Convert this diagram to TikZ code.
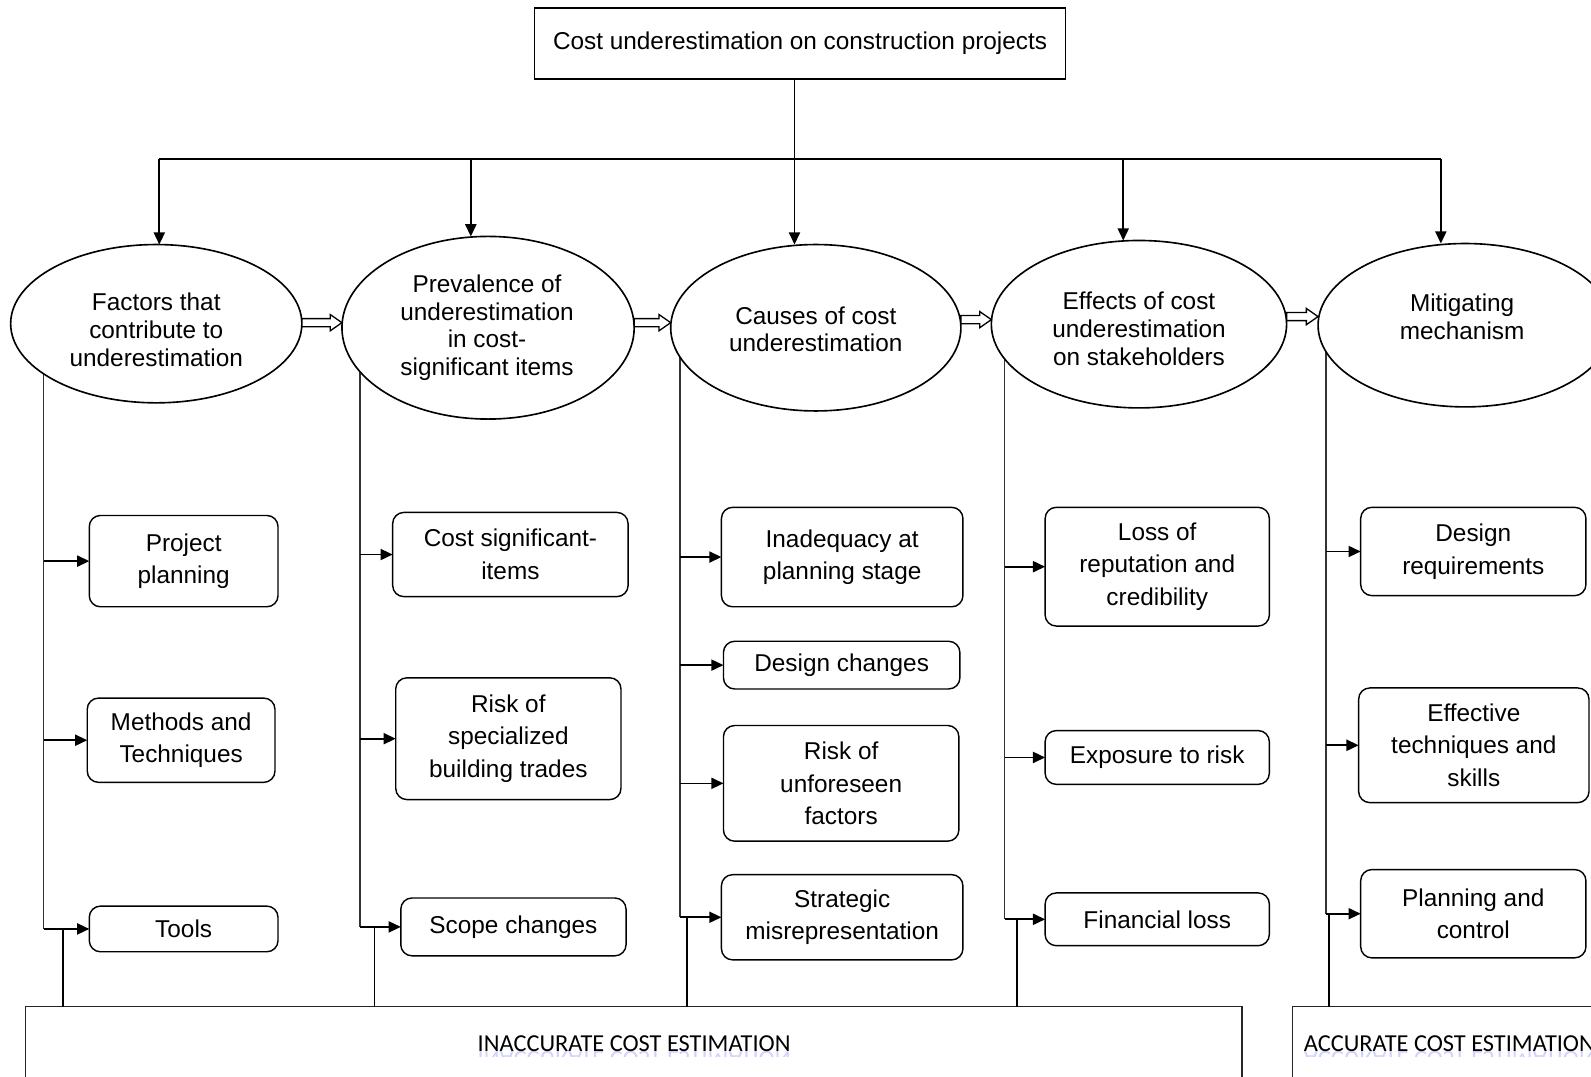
\documentclass[tikz,border=0pt]{standalone}
\usepackage{fontspec}
\setmainfont{Liberation Sans}
\newfontfamily\calibrifont{Carlito}
\usetikzlibrary{shapes.geometric,arrows.meta,calc,backgrounds}

% hollow block arrow between two ovals, at a given height
\newcommand\hollowlink[3]{%
  \draw[hollow] let \p1=(#1.east), \p2=(#2.west), \p3=(0,#3) in
    (\x1,{\y3+4pt}) -- ({\x2-11.5pt},{\y3+4pt}) -- ({\x2-11.5pt},{\y3+8pt})
    -- (\x2,\y3) -- ({\x2-11.5pt},{\y3-8pt}) -- ({\x2-11.5pt},{\y3-4pt})
    -- (\x1,{\y3-4pt}) -- cycle;}

\begin{document}
\begin{tikzpicture}[x=1pt,y=-1pt,
  every node/.style={inner sep=0pt, outer sep=0pt},
  headbox/.style={draw, line width=1.4pt, minimum width=523pt, minimum height=70pt,
    font=\fontsize{24}{28}\selectfont},
  oval/.style={ellipse, draw, line width=1.6pt, fill=white},
  ovaltext/.style={align=center, font=\fontsize{24}{27.5}\selectfont},
  item/.style={draw, rounded corners=11pt, line width=1.4pt, align=center,
    font=\fontsize{24}{32}\selectfont},
  link/.style={line width=1.6pt, -{Triangle[length=12pt,width=11pt]}},
  stem/.style={line width=1.5pt, black!80},
  hollow/.style={draw, line width=1.3pt, fill=white, line join=miter},
  outcome/.style={draw=black!85, line width=1.2pt},
  outtext/.style={font=\calibrifont\fontsize{24}{28}\selectfont},
  glow/.style={font=\calibrifont\fontsize{24}{28}\selectfont, text=blue!18!white,
    yscale=-1, transform shape}
]
\useasboundingbox (0,0) rectangle (1568,1061);
\clip (0,0) rectangle (1568,1061);

% title
\node[headbox] (top) at (788.5,43) {Cost underestimation on construction projects};

% main themes
\node[oval, minimum width=287pt, minimum height=156pt] (e1) at (154,319) {};
\node[oval, minimum width=288pt, minimum height=180pt] (e2) at (481,323) {};
\node[oval, minimum width=286pt, minimum height=164pt] (e3) at (804,323) {};
\node[oval, minimum width=291pt, minimum height=165pt] (e4) at (1122.5,319.5) {};
\node[oval, minimum width=290pt, minimum height=161pt] (e5) at (1444,320.5) {};

\node[ovaltext] (t1) at (154,325) {Factors that\\contribute to\\underestimation};
\node[ovaltext] (t2) at (480,323) {Prevalence of\\underestimation\\in cost-\\significant items};
\node[ovaltext] (t3) at (804,324.5) {Causes of cost\\underestimation};
\node[ovaltext] (t4) at (1122.5,324) {Effects of cost\\underestimation\\on stakeholders};
\node[ovaltext] (t5) at (1441,312.5) {Mitigating\\mechanism};

% distribution bus from the title
\coordinate (bus) at (783,157);
\coordinate (d1) at (157,157);
\coordinate (d2) at (464,157);
\coordinate (d3) at (783,157);
\coordinate (d4) at (1107,157);
\coordinate (d5) at (1420,157);
\draw[line width=1.6pt] (top.south -| bus) -- (bus);
\draw[line width=1.6pt] (d1) -- (d5);
\draw[link] (d1) -- (d1 |- e1.north);
\draw[link] (d2) -- (d2 |- e2.north);
\draw[link] (d3) -- (d3 |- e3.north);
\draw[link] (d4) -- (d4 |- e4.north);
\draw[link] (d5) -- (d5 |- e5.north);

% flow between themes
\hollowlink{e1}{e2}{318}
\hollowlink{e2}{e3}{318}
\hollowlink{e3}{e4}{315}
\hollowlink{e4}{e5}{312}

% column 1
\node[item, minimum width=186pt, minimum height=90pt] (p1) at (181,553) {Project\\planning};
\node[item, minimum width=185pt, minimum height=83pt] (p2) at (178.5,729.5) {Methods and\\Techniques};
\node[item, minimum width=186pt, minimum height=45pt] (p3) at (181,915.5) {Tools};
% column 2
\node[item, minimum width=232pt, minimum height=83pt] (q1) at (503,546.5) {Cost significant-\\items};
\node[item, minimum width=222pt, minimum height=120pt] (q2) at (501,728) {Risk of\\specialized\\building trades};
\node[item, minimum width=222pt, minimum height=57pt] (q3) at (506,913.5) {Scope changes};
% column 3
\node[item, minimum width=238pt, minimum height=98pt] (r1) at (830,549) {Inadequacy at\\planning stage};
\node[item, minimum width=233pt, minimum height=47pt] (r2) at (829.5,655.5) {Design changes};
\node[item, minimum width=232pt, minimum height=114pt] (r3) at (829,772) {Risk of\\unforeseen\\factors};
\node[item, minimum width=238pt, minimum height=84pt] (r4) at (830,904) {Strategic\\misrepresentation};
% column 4
\node[item, minimum width=221pt, minimum height=117pt] (s1) at (1140.5,558.5) {Loss of\\reputation and\\credibility};
\node[item, minimum width=221pt, minimum height=53pt] (s2) at (1140.5,746.5) {Exposure to risk};
\node[item, minimum width=221pt, minimum height=52pt] (s3) at (1140.5,906) {Financial loss};
% column 5
\node[item, minimum width=222pt, minimum height=87pt] (u1) at (1452,543.5) {Design\\requirements};
\node[item, minimum width=227pt, minimum height=113pt] (u2) at (1452.5,734.5) {Effective\\techniques and\\skills};
\node[item, minimum width=222pt, minimum height=87pt] (u3) at (1452,900.5) {Planning and\\control};

% outcomes
\node[outcome, anchor=north west, minimum width=1199pt, minimum height=120pt] (inacc) at (25,992) {};
\node[outcome, anchor=north west, minimum width=400pt, minimum height=120pt] (acc) at (1274,992) {};
\begin{scope}
  \clip (25,1036) rectangle (1224,1041);
  \node[glow, anchor=base] (inaccglow) at (625,1036) {INACCURATE COST ESTIMATION};
\end{scope}
\begin{scope}
  \clip (1275,1036) rectangle (1568,1041);
  \node[glow, anchor=base west] (accglow) at (1285,1036) {ACCURATE COST ESTIMATION};
\end{scope}
\node[outtext, anchor=base] (inacctext) at (625,1036) {INACCURATE COST ESTIMATION};
\node[outtext, anchor=base west] (acctext) at (1285,1036) {ACCURATE COST ESTIMATION};

% stems under each theme
\coordinate (k1) at (43,915.5);
\coordinate (k2) at (355,913.5);
\coordinate (k3) at (670,904);
\coordinate (k4) at (990,906);
\coordinate (k5) at (1307,900.5);
\coordinate (b1) at (62,915.5);
\coordinate (b2) at (369,913.5);
\coordinate (b3) at (677,904);
\coordinate (b4) at (1002,906);
\coordinate (b5) at (1310,900.5);

\begin{scope}[on background layer]
  \draw[stem] (e1.center -| k1) -- (k1);
  \draw[stem] (e2.center -| k2) -- (k2);
  \draw[stem] (e3.center -| k3) -- (k3);
  \draw[stem] (e4.center -| k4) -- (k4);
  \draw[stem] (e5.center -| k5) -- (k5);
\end{scope}

\draw[link] (k1 |- p1) -- (p1.west);
\draw[link] (k1 |- p2) -- (p2.west);
\draw[link] (k1) -- (p3.west);
\draw[link] (k2 |- q1) -- (q1.west);
\draw[link] (k2 |- q2) -- (q2.west);
\draw[link] (k2) -- (q3.west);
\draw[link] (k3 |- r1) -- (r1.west);
\draw[link] (k3 |- r2) -- (r2.west);
\draw[link] (k3 |- r3) -- (r3.west);
\draw[link] (k3) -- (r4.west);
\draw[link] (k4 |- s1) -- (s1.west);
\draw[link] (k4 |- s2) -- (s2.west);
\draw[link] (k4) -- (s3.west);
\draw[link] (k5 |- u1) -- (u1.west);
\draw[link] (k5 |- u2) -- (u2.west);
\draw[link] (k5) -- (u3.west);

% drops into the outcome boxes
\draw[line width=1.6pt] (b1) -- (b1 |- inacc.north);
\draw[line width=1.6pt] (b2) -- (b2 |- inacc.north);
\draw[line width=1.6pt] (b3) -- (b3 |- inacc.north);
\draw[line width=1.6pt] (b4) -- (b4 |- inacc.north);
\draw[line width=1.6pt] (b5) -- (b5 |- acc.north);
\end{tikzpicture}
\end{document}
